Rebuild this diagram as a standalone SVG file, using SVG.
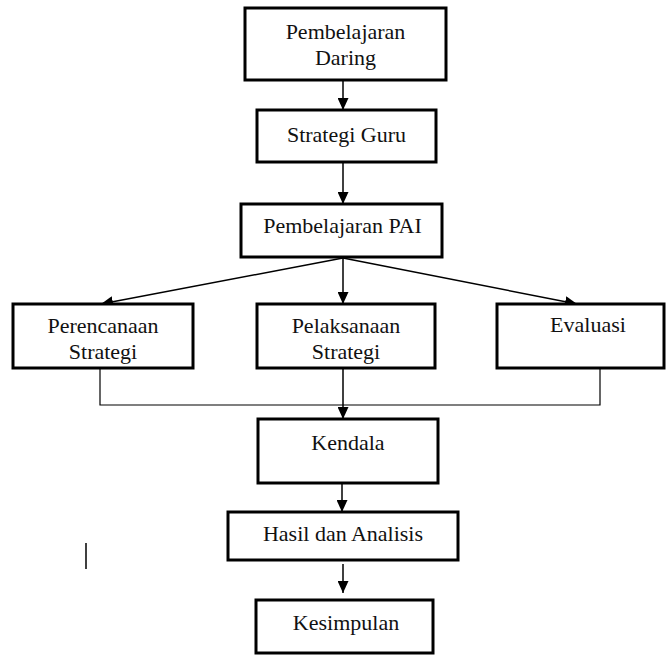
<svg xmlns="http://www.w3.org/2000/svg" width="667" height="655" viewBox="0 0 667 655">
<style>
.box{fill:#fff;stroke:#000;stroke-width:3}
.t{font-family:"Liberation Serif","Times New Roman",serif;font-size:22px;fill:#111;text-anchor:middle}
.c{fill:none;stroke:#000;stroke-width:1.5}
.c2{fill:none;stroke:#000;stroke-width:1.2}
</style>
<defs>
<marker id="ah" markerUnits="userSpaceOnUse" markerWidth="12" markerHeight="11" refX="12" refY="5.5" orient="auto">
<path d="M0,0 L12,5.5 L0,11 z" fill="#000"/>
</marker>
</defs>
<rect width="667" height="655" fill="#fff"/>
<g id="connectors">
<line class="c" x1="343" y1="80" x2="343" y2="110" marker-end="url(#ah)"/>
<line class="c" x1="343" y1="162" x2="343" y2="204" marker-end="url(#ah)"/>
<line class="c" x1="343" y1="258" x2="101" y2="304" marker-end="url(#ah)"/>
<line class="c" x1="343" y1="258" x2="343" y2="304" marker-end="url(#ah)"/>
<line class="c" x1="343" y1="258" x2="577" y2="304" marker-end="url(#ah)"/>
<polyline class="c2" points="100,368 100,405 600,405 600,368"/>
<line class="c" x1="343" y1="368" x2="343" y2="419" marker-end="url(#ah)"/>
<line class="c" x1="342" y1="483" x2="342" y2="512" marker-end="url(#ah)"/>
<line class="c" x1="343" y1="564" x2="343" y2="593" marker-end="url(#ah)"/>
<line class="c" x1="86" y1="543" x2="86" y2="569"/>
</g>
<g id="n1"><rect class="box" x="245" y="8" width="201" height="72"/><text class="t" x="345.5" y="39">Pembelajaran</text><text class="t" x="345.5" y="65">Daring</text></g>
<g id="n2"><rect class="box" x="257" y="110" width="179" height="52"/><text class="t" x="346.5" y="142">Strategi Guru</text></g>
<g id="n3"><rect class="box" x="241" y="204" width="201" height="53"/><text class="t" x="342.5" y="233">Pembelajaran PAI</text></g>
<g id="n4"><rect class="box" x="13" y="304" width="180" height="64"/><text class="t" x="103" y="333">Perencanaan</text><text class="t" x="103" y="359">Strategi</text></g>
<g id="n5"><rect class="box" x="257" y="304" width="178" height="64"/><text class="t" x="346" y="333">Pelaksanaan</text><text class="t" x="346" y="359">Strategi</text></g>
<g id="n6"><rect class="box" x="497" y="304" width="167" height="64"/><text class="t" x="588" y="332">Evaluasi</text></g>
<g id="n7"><rect class="box" x="258" y="419" width="180" height="64"/><text class="t" x="348" y="450">Kendala</text></g>
<g id="n8"><rect class="box" x="228" y="512" width="230" height="48"/><text class="t" x="343" y="541">Hasil dan Analisis</text></g>
<g id="n9"><rect class="box" x="256" y="600" width="177" height="53"/><text class="t" x="346" y="630">Kesimpulan</text></g>
</svg>
